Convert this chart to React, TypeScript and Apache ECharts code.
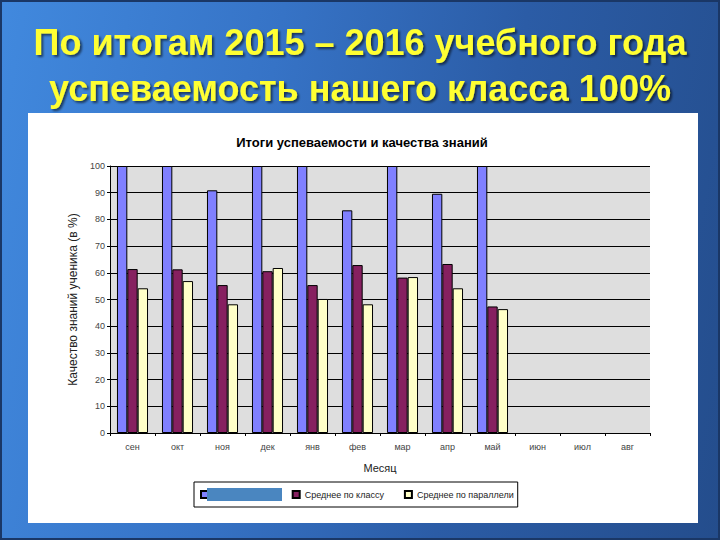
import React, { useEffect, useRef } from "react";
import * as echarts from "echarts";

const months = ["сен", "окт", "ноя", "дек", "янв", "фев", "мар", "апр", "май", "июн", "июл", "авг"];
const seriesNames = ["Успеваемость", "Среднее по классу", "Среднее по параллели"];
const progress = [100, 100, 90.9, 100, 100, 83.4, 100, 89.6, 100, null, null, null];
const classAvg = [61.4, 61.3, 55.4, 60.6, 55.4, 62.9, 58.2, 63.3, 47.4, null, null, null];
const parallelAvg = [54.2, 56.9, 48.2, 61.8, 50.2, 48.2, 58.4, 54.2, 46.4, null, null, null];
const seriesColors = ["#8080ff", "#862060", "#ffffc8"];
const slideTitle = ["По итогам 2015 – 2016 учебного года", "успеваемость нашего класса 100%"];
const chartTitle = "Итоги успеваемости и качества знаний";

export default function App() {
  const ref = useRef<HTMLDivElement>(null);
  useEffect(() => {
    document.body.style.margin = "0";
    if (!ref.current) return;
    const chart = echarts.init(ref.current, null, { renderer: "svg" });
    const ff = "Liberation Sans, Arial, sans-serif";
    const values = [progress, classAvg, parallelAvg];
    chart.setOption({
      animation: false,
      textStyle: { fontFamily: ff },
      title: {
        text: chartTitle,
        left: 357,
        textAlign: "center",
        top: 131,
        textStyle: { fontSize: 13, fontWeight: "bold", color: "#000", fontFamily: ff },
      },
      grid: {
        left: 110,
        right: 70,
        top: 166,
        bottom: 107,
        show: true,
        backgroundColor: "#dedede",
        borderWidth: 0,
      },
      legend: {
        data: seriesNames,
        left: 194,
        top: 482,
        orient: "horizontal",
        icon: "rect",
        itemWidth: 7,
        itemHeight: 7,
        itemGap: 20,
        padding: [8, 4, 8, 6],
        borderColor: "#000",
        borderWidth: 1,
        backgroundColor: "#fff",
        textStyle: { fontSize: 9, color: "#222", fontFamily: ff },
      },
      xAxis: {
        type: "category",
        data: months,
        name: "Месяц",
        nameLocation: "middle",
        nameGap: 29,
        nameTextStyle: { fontSize: 11, color: "#222", fontFamily: ff },
        axisLine: { lineStyle: { color: "#000", width: 1 } },
        axisTick: { show: true, alignWithLabel: false, interval: 0, length: 3, lineStyle: { color: "#000" } },
        axisLabel: { fontSize: 9, color: "#444", margin: 9, interval: 0 },
      },
      yAxis: {
        type: "value",
        min: 0,
        max: 100,
        interval: 10,
        name: "Качество знаний ученика (в %)",
        nameLocation: "middle",
        nameRotate: 90,
        nameGap: 29,
        nameTextStyle: { fontSize: 12, color: "#222", fontFamily: ff },
        axisLine: { show: true, lineStyle: { color: "#000", width: 1 } },
        axisTick: { show: true, length: 3, lineStyle: { color: "#000" } },
        axisLabel: { fontSize: 9, color: "#444", margin: 5 },
        splitLine: { show: true, lineStyle: { color: "#000", width: 1 } },
      },
      series: seriesNames.map((name, i) => ({
        name,
        type: "bar",
        data: values[i],
        barGap: "0%",
        barCategoryGap: "31%",
        itemStyle: { color: seriesColors[i], borderColor: "#000", borderWidth: 1 },
      })),
      graphic: [
        {
          type: "rect",
          z: 100,
          shape: { x: 207, y: 488, width: 75, height: 13 },
          style: { fill: "#4a86c0" },
        },
        ...slideTitle.map((t, i) => ({
          type: "text",
          z: 100,
          x: 360,
          y: i === 0 ? 42 : 88,
          style: {
            text: t,
            fill: "#ffff33",
            font: `bold 36px ${ff}`,
            textAlign: "center",
            textVerticalAlign: "middle",
            textShadowColor: "rgba(0,0,0,0.55)",
            textShadowOffsetX: 2,
            textShadowOffsetY: 2,
            textShadowBlur: 2,
          },
        })),
      ],
    });
    return () => chart.dispose();
  }, []);
  return (
    <div
      style={{
        position: "relative",
        width: 720,
        height: 540,
        background: "linear-gradient(100deg, #4189de 0%, #3673c6 35%, #2b5ca6 65%, #244d8c 100%)",
        boxShadow: "inset 0 0 0 2px #1a3766",
        overflow: "hidden",
      }}
    >
      <div
        style={{
          position: "absolute",
          left: 28,
          top: 113,
          width: 670,
          height: 410,
          background: "#fff",
        }}
      />
      <div ref={ref} style={{ position: "absolute", left: 0, top: 0, width: 720, height: 540 }} />
    </div>
  );
}
